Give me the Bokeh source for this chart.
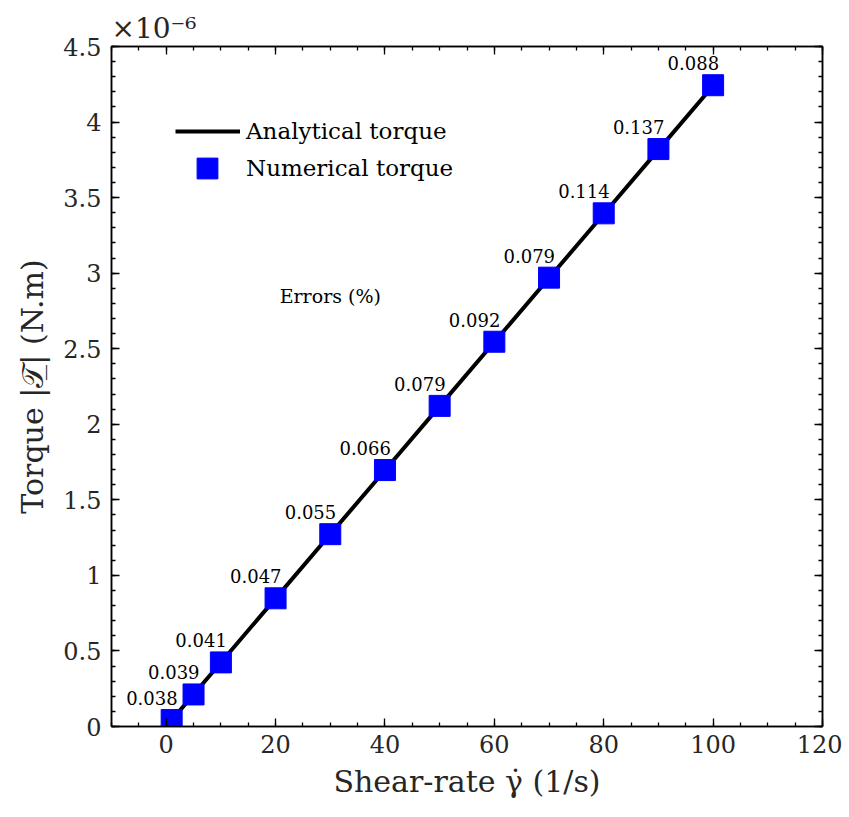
from bokeh.plotting import figure
from bokeh.models import (ColumnDataSource, FixedTicker, LinearAxis, Legend, LegendItem,
                          Label, Range1d, CustomJSTickFormatter)
from bokeh.core.properties import value
from bokeh.embed import file_html
from bokeh.resources import INLINE

# ---- data ----
shear_rate = [1, 5, 10, 20, 30, 40, 50, 60, 70, 80, 90, 100]
# torque values in units of 1e-6 N.m
analytical_torque = [0.0424, 0.212, 0.424, 0.848, 1.272, 1.696, 2.12, 2.544, 2.968, 3.392, 3.816, 4.24]
numerical_torque = [0.0424, 0.2121, 0.4242, 0.8484, 1.2727, 1.6971, 2.1217, 2.5463, 2.9702, 3.3959, 3.8212, 4.2437]
errors = ["0.038", "0.039", "0.041", "0.047", "0.055", "0.066", "0.079", "0.092",
          "0.079", "0.114", "0.137", "0.088"]
x_major = [0, 20, 40, 60, 80, 100, 120]
y_major = [0, 0.5, 1, 1.5, 2, 2.5, 3, 3.5, 4, 4.5]

FONT = "DejaVu Serif"
TXT = "#262626"

p = figure(frame_width=711, frame_height=680,
           x_range=Range1d(-10, 120), y_range=Range1d(0, 4.5),
           output_backend="svg", toolbar_location=None,
           min_border_left=111, min_border_top=46, min_border_right=20, min_border_bottom=84)
p.grid.visible = False
p.outline_line_color = "black"
p.outline_line_width = 1.5
p.background_fill_color = "white"
p.border_fill_color = "white"

p.title.text = "\u00d710\u207b\u2076"
p.title.align = "left"
p.title.text_font = FONT
p.title.text_font_size = "28px"
p.title.text_font_style = "normal"
p.title.text_color = TXT
p.title.offset = 0
p.title.standoff = 4

xt = FixedTicker(ticks=x_major, minor_ticks=list(range(-10, 121, 5)))
yt = FixedTicker(ticks=y_major, minor_ticks=[i / 10 for i in range(46)])
fmt = CustomJSTickFormatter(code="return String(Math.round(tick*10)/10);")
blank = CustomJSTickFormatter(code="return '';")

def style(ax, labels=True):
    ax.axis_line_color = "black"
    ax.axis_line_width = 1.5
    ax.major_tick_in = 8
    ax.major_tick_out = 0
    ax.minor_tick_in = 4
    ax.minor_tick_out = 0
    ax.major_tick_line_color = "black"
    ax.minor_tick_line_color = "black"
    ax.major_tick_line_width = 1.3
    ax.minor_tick_line_width = 1.3
    ax.major_label_text_font = FONT
    ax.major_label_text_font_size = "24px" if labels else "1px"
    ax.major_label_text_color = TXT
    ax.axis_label_text_font = FONT
    ax.axis_label_text_font_size = "30px"
    ax.axis_label_text_font_style = "normal"
    ax.axis_label_text_color = TXT

p.xaxis.ticker = xt
p.yaxis.ticker = yt
p.yaxis.formatter = fmt
style(p.xaxis[0])
style(p.yaxis[0])
p.xaxis.axis_label = "Shear-rate \u03b3\u0307 (1/s)"
p.yaxis.axis_label = "Torque |\U0001D4AF\u0332| (N.m)"
p.xaxis.major_label_standoff = 8
p.yaxis.major_label_standoff = 10
p.xaxis.axis_label_standoff = 8
p.yaxis.axis_label_standoff = 10

top = LinearAxis(ticker=xt, formatter=blank, major_label_standoff=0)
style(top, labels=False)
p.add_layout(top, "above")
right = LinearAxis(ticker=yt, formatter=blank, major_label_standoff=0)
style(right, labels=False)
p.add_layout(right, "right")

src = ColumnDataSource(dict(x=shear_rate, ya=analytical_torque, yn=numerical_torque, err=errors))
lr = p.line("x", "ya", source=src, line_color="black", line_width=4)
sr = p.scatter("x", "yn", source=src, marker="square", size=21,
               fill_color="#0000FF", line_color="#0000FF")
p.text("x", "yn", text="err", source=src, text_align="right", text_baseline="bottom",
       x_offset=6, y_offset=-15, text_font=value(FONT), text_font_size="18px", text_color="black")

leg1 = Legend(items=[LegendItem(label="Analytical torque", renderers=[lr])],
              location=(64, 580), glyph_width=65, glyph_height=30, label_height=30,
              label_standoff=6, padding=0, margin=0, border_line_color=None,
              background_fill_alpha=0, label_text_font=FONT, label_text_font_size="23px",
              label_text_color="black")
leg2 = Legend(items=[LegendItem(label="Numerical torque", renderers=[sr])],
              location=(70, 532), glyph_width=52, glyph_height=52, label_height=52,
              label_standoff=13, padding=0, margin=0, border_line_color=None,
              background_fill_alpha=0, label_text_font=FONT, label_text_font_size="23px",
              label_text_color="black")
p.add_layout(leg1)
p.add_layout(leg2)

p.add_layout(Label(x=30, y=2.85, text="Errors (%)", text_align="center", text_baseline="middle",
                   text_font=FONT, text_font_size="19px", text_color="black"))

open("out.html", "w").write(file_html(p, INLINE))
